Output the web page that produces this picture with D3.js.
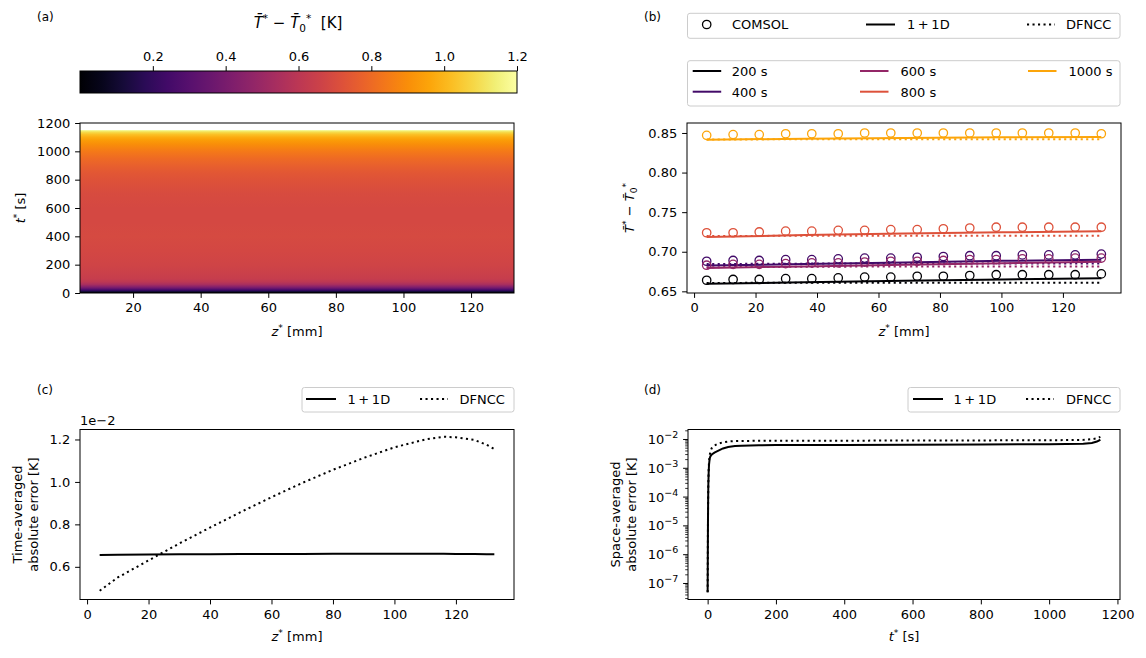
<!DOCTYPE html>
<html><head><meta charset="utf-8">
<script src="https://cdn.jsdelivr.net/npm/d3@7"></script>
<style>body{margin:0;background:#fff} svg text{font-family:"DejaVu Sans",sans-serif;}</style>
</head><body>
<svg id="fig" width="1146" height="658"></svg>
<script>
// ---------------- data ----------------
// (a) heat map: space-averaged temperature rise vs time (K)
const heatTimes  = [0, 5, 10, 15, 20, 25, 30, 40, 50, 60, 70, 80, 100, 150, 200, 300, 400, 500, 600, 700, 800, 850, 900, 950, 1000, 1050, 1080, 1100, 1120, 1135, 1145, 1150];
const heatValues = [0.0, 0.05, 0.11, 0.17, 0.23, 0.28, 0.33, 0.41, 0.48, 0.54, 0.58, 0.605, 0.635, 0.655, 0.667, 0.68, 0.69, 0.688, 0.686, 0.695, 0.726, 0.745, 0.77, 0.805, 0.848, 0.9, 0.94, 0.975, 1.03, 1.09, 1.15, 1.19];
const cbTicks = [0.2, 0.4, 0.6, 0.8, 1.0, 1.2];
const heatZTicks = [20, 40, 60, 80, 100, 120];
const heatTTicks = [0, 200, 400, 600, 800, 1000, 1200];

// (b) profiles at several times
const timeLabels = ["200 s", "400 s", "600 s", "800 s", "1000 s"];
const zComsol = [4.1, 12.7, 21.2, 29.8, 38.3, 46.9, 55.5, 64.0, 72.6, 81.1, 89.7, 98.3, 106.8, 115.4, 124.0, 132.5];
const comsol200  = [0.664, 0.665, 0.665, 0.666, 0.666, 0.667, 0.668, 0.668, 0.669, 0.669, 0.670, 0.671, 0.671, 0.671, 0.671, 0.672];
const comsol400  = [0.688, 0.689, 0.689, 0.690, 0.690, 0.691, 0.692, 0.692, 0.693, 0.694, 0.695, 0.695, 0.696, 0.696, 0.696, 0.697];
const comsol600  = [0.683, 0.684, 0.684, 0.685, 0.686, 0.686, 0.687, 0.688, 0.688, 0.689, 0.690, 0.690, 0.691, 0.691, 0.692, 0.692];
const comsol800  = [0.724, 0.724, 0.725, 0.726, 0.726, 0.727, 0.727, 0.728, 0.728, 0.729, 0.730, 0.731, 0.731, 0.731, 0.731, 0.731];
const comsol1000 = [0.847, 0.848, 0.848, 0.849, 0.849, 0.849, 0.850, 0.850, 0.850, 0.850, 0.850, 0.850, 0.850, 0.850, 0.850, 0.849];
const zLine = [4.1, 36.2, 68.3, 100.4, 132.5];
const oneD200  = [0.6595, 0.6615, 0.6635, 0.6650, 0.6665];
const oneD400  = [0.6825, 0.6845, 0.6865, 0.6885, 0.6900];
const oneD600  = [0.6795, 0.6815, 0.6835, 0.6855, 0.6875];
const oneD800  = [0.7185, 0.7210, 0.7230, 0.7245, 0.7258];
const oneD1000 = [0.8415, 0.8428, 0.8438, 0.8445, 0.8448];
const dfn200  = [0.6605, 0.6610, 0.6610, 0.6610, 0.6610];
const dfn400  = [0.6845, 0.6850, 0.6850, 0.6850, 0.6850];
const dfn600  = [0.6805, 0.6810, 0.6815, 0.6815, 0.6815];
const dfn800  = [0.7198, 0.7202, 0.7202, 0.7202, 0.7202];
const dfn1000 = [0.8418, 0.8420, 0.8420, 0.8420, 0.8420];
const bXTicks = [0, 20, 40, 60, 80, 100, 120];
const bYTicks = [0.65, 0.70, 0.75, 0.80, 0.85];

// (c) time-averaged absolute error vs z (K)
const zErr = [4.1, 10, 20, 30, 40, 50, 60, 70, 80, 90, 100, 110, 116, 120, 126, 130, 132.5];
const timeAvg1D  = [0.00656, 0.00657, 0.00658, 0.00659, 0.00659, 0.00660, 0.00660, 0.00660, 0.00661, 0.00661, 0.00661, 0.00661, 0.00661, 0.00660, 0.00660, 0.00659, 0.00659];
const timeAvgDFN = [0.00487, 0.00550, 0.00630, 0.00710, 0.00785, 0.00858, 0.00928, 0.00995, 0.01057, 0.01113, 0.01163, 0.01200, 0.01213, 0.01210, 0.01198, 0.01175, 0.01155];
const cYTicks = [0.006, 0.008, 0.010, 0.012];

// (d) space-averaged absolute error vs time (K)
const tErr = [0, 0.5, 1, 1.5, 2, 3, 4, 6, 8, 12, 20, 30, 45, 60, 80, 100, 150, 200, 400, 600, 800, 1000, 1100, 1125, 1140, 1150];
const spaceAvg1D  = [5e-8, 1e-6, 1.5e-5, 8e-5, 2.5e-4, 7e-4, 1.3e-3, 2.2e-3, 2.6e-3, 3.0e-3, 3.5e-3, 4.0e-3, 4.9e-3, 5.5e-3, 5.9e-3, 6.1e-3, 6.3e-3, 6.4e-3, 6.5e-3, 6.6e-3, 6.7e-3, 6.9e-3, 7.1e-3, 7.6e-3, 8.5e-3, 9.8e-3];
const spaceAvgDFN = [5e-8, 1e-6, 1.6e-5, 9e-5, 3e-4, 9e-4, 1.6e-3, 2.8e-3, 3.8e-3, 5.0e-3, 6.2e-3, 7.1e-3, 8.0e-3, 8.5e-3, 8.8e-3, 8.9e-3, 9.0e-3, 9.0e-3, 9.1e-3, 9.2e-3, 9.3e-3, 9.4e-3, 9.7e-3, 1.02e-2, 1.1e-2, 1.23e-2];
const dXTicks = [0, 200, 400, 600, 800, 1000, 1200];
const dYExps = [-7, -6, -5, -4, -3, -2];

// ---------------- drawing ----------------
const svg = d3.select("#fig");
const FS = 13, TL = 4.9, TP = 4.9, LW = 2;
const DOT = "2.1,3.4";
const MINUS = "\u2212", NB = "\u00a0";
const seriesColors = [0, 0.2, 0.4, 0.6, 0.8].map(v => d3.interpolateInferno(v));

function styleAxis(g) {
  g.attr("font-size", FS).attr("font-family", "DejaVu Sans");
  g.select(".domain").remove();
  g.selectAll("text").attr("fill", "#000");
  g.selectAll(".tick line").attr("stroke", "#000").attr("stroke-width", 1);
}
function frame(b) {
  svg.append("rect").attr("x", b.x).attr("y", b.y).attr("width", b.w).attr("height", b.h)
    .attr("fill", "none").attr("stroke", "#000").attr("stroke-width", 1);
}
function axB(scale, b, ticks, fmt) {
  const g = svg.append("g").attr("transform", `translate(0,${b.y + b.h})`)
    .call(d3.axisBottom(scale).tickValues(ticks).tickFormat(fmt).tickSize(TL).tickPadding(TP).tickSizeOuter(0));
  styleAxis(g); return g;
}
function axL(scale, b, ticks, fmt) {
  const g = svg.append("g").attr("transform", `translate(${b.x},0)`)
    .call(d3.axisLeft(scale).tickValues(ticks).tickFormat(fmt).tickSize(TL).tickPadding(TP).tickSizeOuter(0));
  styleAxis(g); return g;
}
function txt(x, y, s, opts = {}) {
  const t = svg.append("text").attr("x", x).attr("y", y).attr("font-size", opts.fs || FS).attr("fill", "#000")
    .attr("text-anchor", opts.anchor || "start");
  if (opts.rot) t.attr("transform", `rotate(-90,${x},${y})`);
  if (s !== null) t.text(s);
  return t;
}
function varLabel(t, v, rest, fs) {  // italic var with * superscript, then rest
  t.append("tspan").attr("font-style", "italic").text(v);
  t.append("tspan").attr("font-size", fs * 0.7).attr("dy", -fs * 0.38).text("*");
  t.append("tspan").attr("dy", fs * 0.38).text(rest);
}
function tDiffLabel(t, fs, units) {
  t.append("tspan").attr("font-style", "italic").text("T\u0304");
  t.append("tspan").attr("font-size", fs * 0.7).attr("dy", -fs * 0.38).text("*");
  t.append("tspan").attr("dy", fs * 0.38).text(NB + MINUS + NB);
  t.append("tspan").attr("font-style", "italic").text("T\u0304");
  t.append("tspan").attr("font-size", fs * 0.7).attr("dy", fs * 0.25).text("0");
  t.append("tspan").attr("font-size", fs * 0.7).attr("dy", -fs * 0.63).text("*");
  t.append("tspan").attr("dy", fs * 0.38).text(units ? NB + NB + "[K]" : "");
}
function legendBox(x, y, w, h) {
  svg.append("rect").attr("x", x).attr("y", y).attr("width", w).attr("height", h).attr("rx", 2.5)
    .attr("fill", "#fff").attr("fill-opacity", 0.8).attr("stroke", "#cccccc").attr("stroke-width", 1);
}
function legLine(x1, x2, y, color, dotted) {
  const l = svg.append("line").attr("x1", x1).attr("x2", x2).attr("y1", y).attr("y2", y)
    .attr("stroke", color).attr("stroke-width", LW);
  if (dotted) l.attr("stroke-dasharray", DOT);
}
const defs = svg.append("defs");

// ===== panel (a) =====
const A = { x: 80, y: 123, w: 434, h: 170 };
const CB = { x: 80, y: 71, w: 437, h: 22 };
const ax = d3.scaleLinear().domain([4.3, 132.7]).range([A.x, A.x + A.w]);
const ay = d3.scaleLinear().domain([0, 1200]).range([A.y + A.h, A.y]);
const cbScale = d3.scaleLinear().domain([0, 1.2]).range([CB.x, CB.x + CB.w]);
const colorOf = v => d3.interpolateInferno(Math.max(0, Math.min(1, v / 1.2)));

const tMax = heatTimes[heatTimes.length - 1];
const hg = defs.append("linearGradient").attr("id", "heatGrad").attr("gradientUnits", "userSpaceOnUse")
  .attr("x1", 0).attr("x2", 0).attr("y1", ay(0)).attr("y2", ay(tMax));
heatTimes.forEach((t, i) => hg.append("stop").attr("offset", (ay(0) - ay(t)) / (ay(0) - ay(tMax))).attr("stop-color", colorOf(heatValues[i])));
svg.append("rect").attr("x", ax(4.3)).attr("width", ax(132.7) - ax(4.3))
  .attr("y", ay(tMax)).attr("height", ay(0) - ay(tMax)).attr("fill", "url(#heatGrad)");
frame(A);
axB(ax, A, heatZTicks, d3.format("d"));
axL(ay, A, heatTTicks, d3.format("d"));
varLabel(txt(A.x + A.w / 2, 336, null, { anchor: "middle" }), "z", NB + "[mm]", FS);
varLabel(txt(25, A.y + A.h / 2, null, { anchor: "middle", rot: true }), "t", NB + "[s]", FS);

// colorbar
const cg = defs.append("linearGradient").attr("id", "cbGrad").attr("gradientUnits", "userSpaceOnUse")
  .attr("x1", cbScale(0)).attr("x2", cbScale(1.2)).attr("y1", 0).attr("y2", 0);
d3.range(0, 21).forEach(i => {
  const v = 1.2 * i / 20;
  cg.append("stop").attr("offset", i / 20).attr("stop-color", colorOf(v));
});
svg.append("rect").attr("x", CB.x).attr("y", CB.y).attr("width", CB.w).attr("height", CB.h).attr("fill", "url(#cbGrad)");
frame(CB);
const cbAx = svg.append("g").attr("transform", `translate(0,${CB.y})`)
  .call(d3.axisTop(cbScale).tickValues(cbTicks).tickFormat(d3.format(".1f")).tickSize(TL).tickPadding(TP).tickSizeOuter(0));
styleAxis(cbAx);
tDiffLabel(txt(298, 28, null, { anchor: "middle", fs: 15 }), 15, true);
txt(37, 21, "(a)", { fs: 12 });

// ===== panel (b) =====
const B = { x: 687, y: 123, w: 434, h: 170 };
const bx = d3.scaleLinear().domain([-2.3, 138.9]).range([B.x, B.x + B.w]);
const by = d3.scaleLinear().domain([0.6479, 0.8626]).range([B.y + B.h, B.y]);
const comsolSets = [comsol200, comsol400, comsol600, comsol800, comsol1000];
const oneDSets = [oneD200, oneD400, oneD600, oneD800, oneD1000];
const dfnSets = [dfn200, dfn400, dfn600, dfn800, dfn1000];
const bLine = d3.line().x(d => bx(d[0])).y(d => by(d[1]));
const gb = svg.append("g");
timeLabels.forEach((lab, i) => {
  gb.append("path").attr("d", bLine(zLine.map((z, j) => [z, oneDSets[i][j]])))
    .attr("fill", "none").attr("stroke", seriesColors[i]).attr("stroke-width", LW);
  gb.append("path").attr("d", bLine(zLine.map((z, j) => [z, dfnSets[i][j]])))
    .attr("fill", "none").attr("stroke", seriesColors[i]).attr("stroke-width", LW).attr("stroke-dasharray", DOT);
});
timeLabels.forEach((lab, i) => {
  gb.selectAll(null).data(zComsol.map((z, j) => [z, comsolSets[i][j]])).enter().append("circle")
    .attr("cx", d => bx(d[0])).attr("cy", d => by(d[1])).attr("r", 4.2)
    .attr("fill", "none").attr("stroke", seriesColors[i]).attr("stroke-width", 1.3);
});
frame(B);
axB(bx, B, bXTicks, d3.format("d"));
axL(by, B, bYTicks, d3.format(".2f"));
varLabel(txt(B.x + B.w / 2, 336, null, { anchor: "middle" }), "z", NB + "[mm]", FS);
tDiffLabel(txt(634, B.y + B.h / 2, null, { anchor: "middle", rot: true }), FS, false);
txt(644, 21, "(b)", { fs: 12 });

// legends (b)
legendBox(687.5, 13.3, 432.5, 25);
svg.append("circle").attr("cx", 706.7).attr("cy", 24.5).attr("r", 4.2).attr("fill", "none").attr("stroke", "#000").attr("stroke-width", 1.3);
txt(732, 29.3, "COMSOL");
legLine(866, 895, 24.5, "#000", false);
txt(907, 29.3, "1\u2009+\u20091D");
legLine(1027, 1055, 24.5, "#000", true);
txt(1066, 29.3, "DFNCC");

legendBox(687.5, 60.7, 432.5, 45.3);
const legCols = [[692.7, 731.7], [860, 900.5], [1028, 1068.5]];
timeLabels.forEach((lab, i) => {
  const col = Math.floor(i / 2), row = i % 2;
  const yy = 71 + row * 20.7;
  legLine(legCols[col][0], legCols[col][0] + 28.5, yy, seriesColors[i], false);
  txt(legCols[col][1], yy + 4.8, lab);
});

// ===== panel (c) =====
const C = { x: 80, y: 429.5, w: 434, h: 170 };
const cx = d3.scaleLinear().domain([-2.3, 138.9]).range([C.x, C.x + C.w]);
const cy = d3.scaleLinear().domain([0.00446, 0.01247]).range([C.y + C.h, C.y]);
const cLine = d3.line().x(d => cx(d[0])).y(d => cy(d[1]));
svg.append("path").attr("d", cLine(zErr.map((z, j) => [z, timeAvg1D[j]])))
  .attr("fill", "none").attr("stroke", "#000").attr("stroke-width", LW);
svg.append("path").attr("d", cLine(zErr.map((z, j) => [z, timeAvgDFN[j]])))
  .attr("fill", "none").attr("stroke", "#000").attr("stroke-width", LW).attr("stroke-dasharray", DOT);
frame(C);
axB(cx, C, bXTicks, d3.format("d"));
axL(cy, C, cYTicks, v => (v / 1e-2).toFixed(1));
txt(80, 425, "1e" + MINUS + "2");
varLabel(txt(C.x + C.w / 2, 641, null, { anchor: "middle" }), "z", NB + "[mm]", FS);
txt(22, C.y + C.h / 2, "Time-averaged", { anchor: "middle", rot: true });
txt(38, C.y + C.h / 2, "absolute error [K]", { anchor: "middle", rot: true });
txt(37, 394, "(c)", { fs: 12 });
legendBox(302, 387.5, 212, 24.5);
legLine(306, 336, 399, "#000", false);
txt(347.5, 403.8, "1\u2009+\u20091D");
legLine(420, 448, 399, "#000", true);
txt(459.5, 403.8, "DFNCC");

// ===== panel (d) =====
const D = { x: 688, y: 429.5, w: 432, h: 170 };
const dx = d3.scaleLinear().domain([-57.5, 1207.5]).range([D.x, D.x + D.w]);
const dy = d3.scaleLog().domain([Math.pow(10, -7.556), Math.pow(10, -1.653)]).range([D.y + D.h, D.y]);
const dLine = d3.line().x(d => dx(d[0])).y(d => dy(d[1]));
svg.append("path").attr("d", dLine(tErr.map((t, j) => [t, spaceAvgDFN[j]])))
  .attr("fill", "none").attr("stroke", "#000").attr("stroke-width", LW).attr("stroke-dasharray", DOT);
svg.append("path").attr("d", dLine(tErr.map((t, j) => [t, spaceAvg1D[j]])))
  .attr("fill", "none").attr("stroke", "#000").attr("stroke-width", LW);
frame(D);
axB(dx, D, dXTicks, d3.format("d"));
// log y axis: major ticks with superscript labels, minor ticks
const [dlo, dhi] = dy.domain();
const minor = [];
for (let k = -8; k <= -1; k++) for (let m = 2; m <= 9; m++) { const v = m * Math.pow(10, k); if (v >= dlo && v <= dhi) minor.push(v); }
svg.append("g").selectAll("line").data(minor).enter().append("line")
  .attr("x1", D.x - 2.8).attr("x2", D.x).attr("y1", d => dy(d)).attr("y2", d => dy(d))
  .attr("stroke", "#000").attr("stroke-width", 0.8);
const majors = dYExps.map(e => Math.pow(10, e));
svg.append("g").selectAll("line").data(majors).enter().append("line")
  .attr("x1", D.x - TL).attr("x2", D.x).attr("y1", d => dy(d)).attr("y2", d => dy(d))
  .attr("stroke", "#000").attr("stroke-width", 1);
dYExps.forEach(e => {
  const t = txt(D.x - TL - TP, dy(Math.pow(10, e)) + 4.6, null, { anchor: "end" });
  t.append("tspan").text("10");
  t.append("tspan").attr("font-size", 9.5).attr("dy", -6).text(MINUS + Math.abs(e));
});
varLabel(txt(D.x + D.w / 2, 641, null, { anchor: "middle" }), "t", NB + "[s]", FS);
txt(620, D.y + D.h / 2, "Space-averaged", { anchor: "middle", rot: true });
txt(636, D.y + D.h / 2, "absolute error [K]", { anchor: "middle", rot: true });
txt(644, 394, "(d)", { fs: 12 });
legendBox(908, 387.5, 212, 24.5);
legLine(913, 943, 399, "#000", false);
txt(953.5, 403.8, "1\u2009+\u20091D");
legLine(1026, 1054, 399, "#000", true);
txt(1066, 403.8, "DFNCC");
</script>
</body></html>
